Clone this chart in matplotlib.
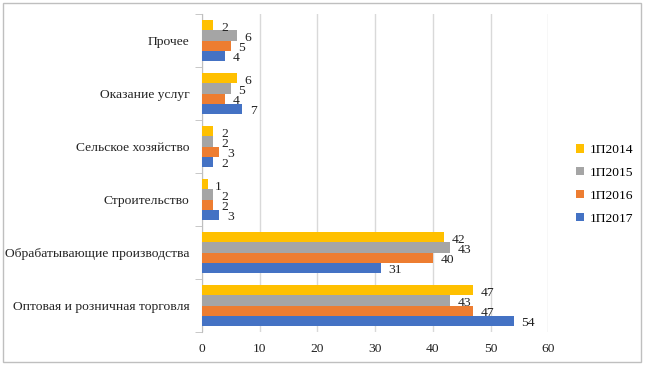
import matplotlib
matplotlib.use("Agg")
import matplotlib.pyplot as plt
import numpy as np
from matplotlib.patches import Rectangle

categories = ["Оптовая и розничная торговля", "Обрабатывающие производства",
              "Строительство", "Сельское хозяйство", "Оказание услуг", "Прочее"]
series_names = ["1П2017", "1П2016", "1П2015", "1П2014"]
v2017 = [54, 31, 3, 2, 7, 4]
v2016 = [47, 40, 2, 3, 4, 5]
v2015 = [43, 43, 2, 2, 5, 6]
v2014 = [47, 42, 1, 2, 6, 2]
colors = ["#4472C4", "#ED7D31", "#A5A5A5", "#FFC000"]

plt.rcParams['font.family'] = ['Liberation Serif', 'DejaVu Serif']
FS = 9.7

fig = plt.figure(figsize=(6.45, 3.65), dpi=100)
ax = fig.add_axes([0.313, 0.0904, 0.537, 0.8712])

y = np.arange(len(categories))
h = 0.19
vals = [v2017, v2016, v2015, v2014]
for i, (name, v, c) in enumerate(zip(series_names, vals, colors)):
    pos = y - 1.5 * h + i * h
    bars = ax.barh(pos, v, height=h, color=c, label=name, zorder=3)
    for b, val in zip(bars, v):
        ax.annotate(str(val), (b.get_width(), b.get_y() + b.get_height() / 2),
                    xytext=(5.5, -2), textcoords="offset points",
                    ha="left", va="center", fontsize=FS, color="#222222", zorder=4)

ax.set_xlim(0, 60)
ax.set_ylim(-0.5, len(categories) - 0.5)
ax.set_xticks(range(0, 61, 10))
ax.set_yticks(y)
ax.set_yticklabels(categories, fontsize=FS, color="#222222")
ax.set_yticks(np.arange(-0.5, len(categories), 1), minor=True)
ax.tick_params(axis='y', which='major', length=0, pad=9)
ax.tick_params(axis='y', which='minor', length=5, color="#BFBFBF")
ax.tick_params(axis='x', length=0, labelsize=FS, labelcolor="#222222", pad=8)
ax.grid(axis='x', color="#D9D9D9", linewidth=1, zorder=0)
for s in ["top", "right", "bottom"]:
    ax.spines[s].set_visible(False)
ax.spines["left"].set_color("#BFBFBF")

handles, labels = ax.get_legend_handles_labels()
leg = fig.legend(handles[::-1], labels[::-1], loc="center left",
                 bbox_to_anchor=(0.893, 0.495), frameon=False, fontsize=FS,
                 handlelength=0.6, handleheight=0.6, handletextpad=0.4,
                 labelspacing=0.8, borderpad=0, borderaxespad=0)

fig.patches.append(Rectangle((0.004, 0.008), 0.99, 0.985, transform=fig.transFigure,
                             fill=False, edgecolor="#BFBFBF", linewidth=1))

fig.savefig("out.png", dpi=100)
